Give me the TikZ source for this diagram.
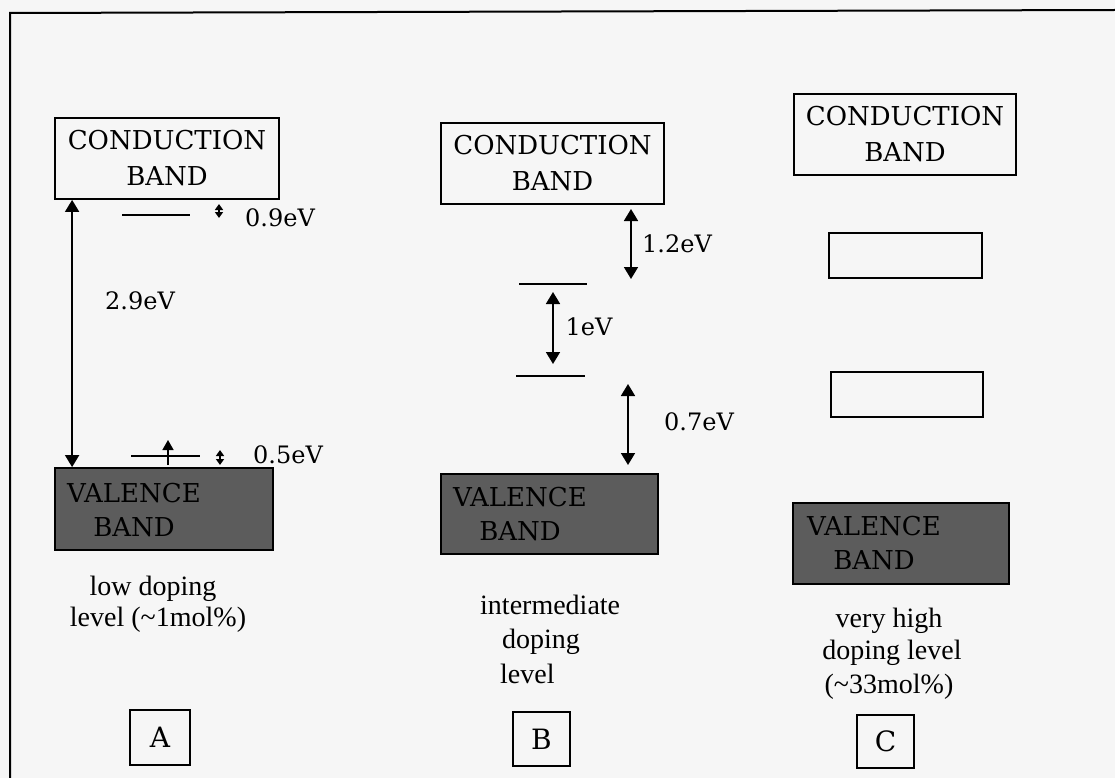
\documentclass[tikz,border=0pt]{standalone}
\usepackage{fontspec}
\setmainfont{Liberation Serif}
\newfontfamily\slab{DejaVu Serif}
\usetikzlibrary{arrows.meta}
\definecolor{bgpaper}{RGB}{246,246,246}
\definecolor{valfill}{RGB}{92,92,92}
\begin{document}
\begin{tikzpicture}[x=1pt,y=-1pt,
  cbox/.style={draw, line width=1.8pt, inner sep=0pt, font=\slab\fontsize{26}{36}\selectfont, align=center},
  vbox/.style={draw, line width=1.8pt, fill=valfill, inner sep=0pt},
  band/.style={inner sep=0pt, font=\slab\fontsize{26}{34}\selectfont, align=center},
  ev/.style={inner sep=0pt, font=\slab\fontsize{24}{28}\selectfont},
  desc/.style={inner sep=0pt, font=\fontsize{28}{33}\selectfont},
  lbox/.style={draw, line width=1.8pt, inner sep=0pt, font=\slab\fontsize{28}{30}\selectfont},
  gap/.style={line width=1.8pt, {Triangle[width=14pt,length=12pt]}-{Triangle[width=14pt,length=12pt]}},
  tinygap/.style={line width=1.5pt, {Triangle[width=8pt,length=6pt]}-{Triangle[width=8pt,length=6pt]}},
  levelline/.style={line width=1.8pt},
  excite/.style={line width=1.6pt, -{Triangle[width=11pt,length=10pt]}}]
\fill[bgpaper] (0,0) rectangle (1115,778);
\useasboundingbox (0,0) rectangle (1115,778);

% frame
\coordinate (frBL) at (10,778);
\coordinate (frTL) at (10,13);
\coordinate (frTR) at (1115,10);
\draw[line width=2pt] (frBL) -- (frTL) -- (frTR);

% ---------------- column A ----------------
\node[cbox, minimum width=224pt, minimum height=81pt] (condA) at (167,158.5) {CONDUCTION\\BAND};
\node[vbox, minimum width=218pt, minimum height=82pt] (valA) at (164,509) {};
\node[band] (valAt) at (134,510) {VALENCE\\BAND};

\draw[gap] ([xshift=18pt]condA.south west) -- ([xshift=18pt]valA.north west);
\node[ev] (evA29) at (140,301) {2.9eV};

\coordinate (lA1w) at (122,215); \coordinate (lA1e) at (190,215);
\draw[levelline] (lA1w) -- (lA1e);
\coordinate (tA1t) at (219,204); \coordinate (tA1b) at (219,218);
\draw[tinygap] (tA1t) -- (tA1b);
\node[ev] (evA09) at (280,218) {0.9eV};

\coordinate (lA2w) at (131,456); \coordinate (lA2e) at (200,456);
\draw[levelline] (lA2w) -- (lA2e);
\coordinate (xAb) at (168,465); \coordinate (xAt) at (168,440);
\draw[excite] (xAb) -- (xAt);
\coordinate (tA2t) at (220,450); \coordinate (tA2b) at (220,465);
\draw[tinygap] (tA2t) -- (tA2b);
\node[ev] (evA05) at (288,455) {0.5eV};

\node[desc, anchor=base] (dA1) at (153,595) {low doping};
\node[desc, anchor=base] (dA2) at (158,626) {level (\textasciitilde1mol\%)};
\node[lbox, minimum width=60pt, minimum height=55pt] (boxA) at (160,737.5) {A};

% ---------------- column B ----------------
\node[cbox, minimum width=223pt, minimum height=81pt] (condB) at (552.5,163.5) {CONDUCTION\\BAND};
\node[vbox, minimum width=217pt, minimum height=80pt] (valB) at (549.5,514) {};
\node[band] (valBt) at (520,514) {VALENCE\\BAND};

\coordinate (lB1w) at (519,284); \coordinate (lB1e) at (587,284);
\draw[levelline] (lB1w) -- (lB1e);
\coordinate (lB2w) at (516,376); \coordinate (lB2e) at (585,376);
\draw[levelline] (lB2w) -- (lB2e);

\coordinate (gB1t) at (631,209); \coordinate (gB1b) at (631,279);
\draw[gap] (gB1t) -- (gB1b);
\node[ev] (evB12) at (677,244) {1.2eV};
\coordinate (gB2t) at (553,292); \coordinate (gB2b) at (553,364);
\draw[gap] (gB2t) -- (gB2b);
\node[ev] (evB1) at (589,327) {1eV};
\coordinate (gB3t) at (628,384); \coordinate (gB3b) at (628,465);
\draw[gap] (gB3t) -- (gB3b);
\node[ev] (evB07) at (699,422) {0.7eV};

\node[desc, anchor=base west] (dB1) at (480,614) {intermediate};
\node[desc, anchor=base west] (dB2) at (502,648) {doping};
\node[desc, anchor=base west] (dB3) at (500,683) {level};
\node[lbox, minimum width=57pt, minimum height=54pt] (boxB) at (541.5,739) {B};

% ---------------- column C ----------------
\node[cbox, minimum width=222pt, minimum height=81pt] (condC) at (905,134.5) {CONDUCTION\\BAND};
\node[draw, line width=1.8pt, minimum width=153pt, minimum height=45pt, inner sep=0pt] (bC1) at (905.5,255.5) {};
\node[draw, line width=1.8pt, minimum width=152pt, minimum height=45pt, inner sep=0pt] (bC2) at (907,394.5) {};
\node[vbox, minimum width=216pt, minimum height=81pt] (valC) at (901,543.5) {};
\node[band] (valCt) at (874,543) {VALENCE\\BAND};

\node[desc, anchor=base] (dC1) at (889,627) {very high};
\node[desc, anchor=base] (dC2) at (892,659) {doping level};
\node[desc, anchor=base] (dC3) at (889,693) {(\textasciitilde33mol\%)};
\node[lbox, minimum width=57pt, minimum height=53pt] (boxC) at (885.5,741.5) {C};
\end{tikzpicture}
\end{document}
